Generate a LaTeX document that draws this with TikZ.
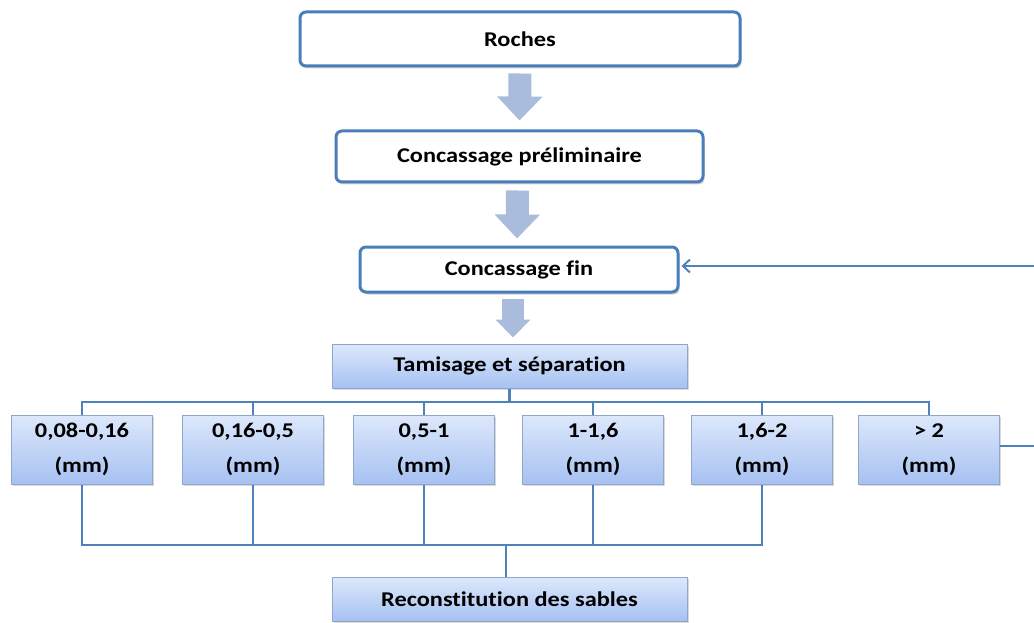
\documentclass[tikz,border=0pt]{standalone}
\usepackage{fontspec}
\setmainfont{Carlito}[Ligatures=NoCommon, FakeStretch=1.16]
\usetikzlibrary{arrows.meta,shadows,calc}
\definecolor{bordblue}{HTML}{4A7EBB}
\definecolor{linkblue}{HTML}{4F81BD}
\definecolor{arrowfill}{HTML}{A9BCDB}
\definecolor{gradtop}{HTML}{DDE8FB}
\definecolor{gradbot}{HTML}{A6C1F2}
\definecolor{gradbord}{HTML}{8FA7C9}
\tikzset{
  txt/.style={font=\fontsize{21}{35}\selectfont\bfseries, text=black, align=center},
  whitebox/.style={txt, draw=bordblue, line width=3pt, rounded corners=6pt, fill=white,
    drop shadow={shadow xshift=1.5pt, shadow yshift=-2.5pt, opacity=.3, fill=black!60}},
  gradbox/.style={txt, draw=gradbord, line width=1pt, top color=gradtop, bottom color=gradbot,
    drop shadow={shadow xshift=1.5pt, shadow yshift=-2pt, opacity=.25, fill=black!60}},
  sizebox/.style={gradbox, minimum width=141pt, minimum height=69pt, inner sep=0pt},
  link/.style={draw=linkblue, line width=2.5pt},
  bigarrow/.style={draw=arrowfill, line width=#1,
    -{Triangle[width=44pt,length=24pt,fill=arrowfill]}},
}
\begin{document}
\begin{tikzpicture}[x=1pt,y=-1pt]
\useasboundingbox (0,0) rectangle (1034,623);
% main chain
\node[whitebox, minimum width=440pt, minimum height=54pt] (roches) at (520,39) {Roches};
\node[whitebox, minimum width=367pt, minimum height=51pt] (prelim) at (519.5,156.5) {Concassage préliminaire};
\node[whitebox, minimum width=318pt, minimum height=45pt] (fin) at (519,269.5) {Concassage fin};
\node[gradbox, minimum width=355pt, minimum height=44pt] (tamis) at (509.5,366) {Tamisage et séparation};
% size classes
\node[sizebox] (b1) at (82,449.5) {0,08-0,16\\(mm)};
\node[sizebox] (b2) at (253,449.5) {0,16-0,5\\(mm)};
\node[sizebox] (b3) at (424,449.5) {0,5-1\\(mm)};
\node[sizebox] (b4) at (593,449.5) {1-1,6\\(mm)};
\node[sizebox] (b5) at (762,449.5) {1,6-2\\(mm)};
\node[sizebox] (b6) at (929,449.5) {> 2\\(mm)};
\node[gradbox, minimum width=355pt, minimum height=44pt] (recon) at (509.5,599) {Reconstitution des sables};
% block arrows
\draw[bigarrow=23pt, shorten <=6pt, shorten >=9pt] (roches.south) -- (prelim.north);
\draw[bigarrow=23pt, shorten <=7pt, shorten >=7pt] ($(prelim.south)+(-2,0)$) -- ($(fin.north)+(-2,0)$);
\draw[draw=arrowfill, line width=22pt, -{Triangle[width=34pt,length=18pt,fill=arrowfill]},
  shorten <=5pt, shorten >=6pt] ($(fin.south)+(-6,0)$) -- ($(tamis.north)+(3.5,0)$);
% top bus
\coordinate (busT) at (0,402);
\draw[link] (tamis.south) -- (tamis.south |- busT);
\draw[link] (b1.north) -- (b1.north |- busT) -- (b6.north |- busT) -- (b6.north);
\foreach \b in {b2,b3,b4,b5} \draw[link] (\b.north) -- (\b.north |- busT);
% bottom bus
\coordinate (busB) at (0,545);
\draw[link] (b1.south) -- (b1.south |- busB) -- (b5.south |- busB) -- (b5.south);
\foreach \b in {b2,b3,b4} \draw[link] (\b.south) -- (\b.south |- busB);
\draw[link] ($(recon.north)+(-3.5,0)$) -- ($(recon.north |- busB)+(-3.5,0)$);
% return loop
\coordinate (edgeR) at (1034,0);
\draw[link] ($(b6.east)+(0,-3.5)$) -- ($(b6.east -| edgeR)+(0,-3.5)$);
\draw[link, line width=2pt, {Straight Barb[length=7pt,width=13pt,line width=2pt]}-]
  ($(fin.east)+(2,-3.5)$) -- ($(fin.east -| edgeR)+(0,-3.5)$);
\end{tikzpicture}
\end{document}
